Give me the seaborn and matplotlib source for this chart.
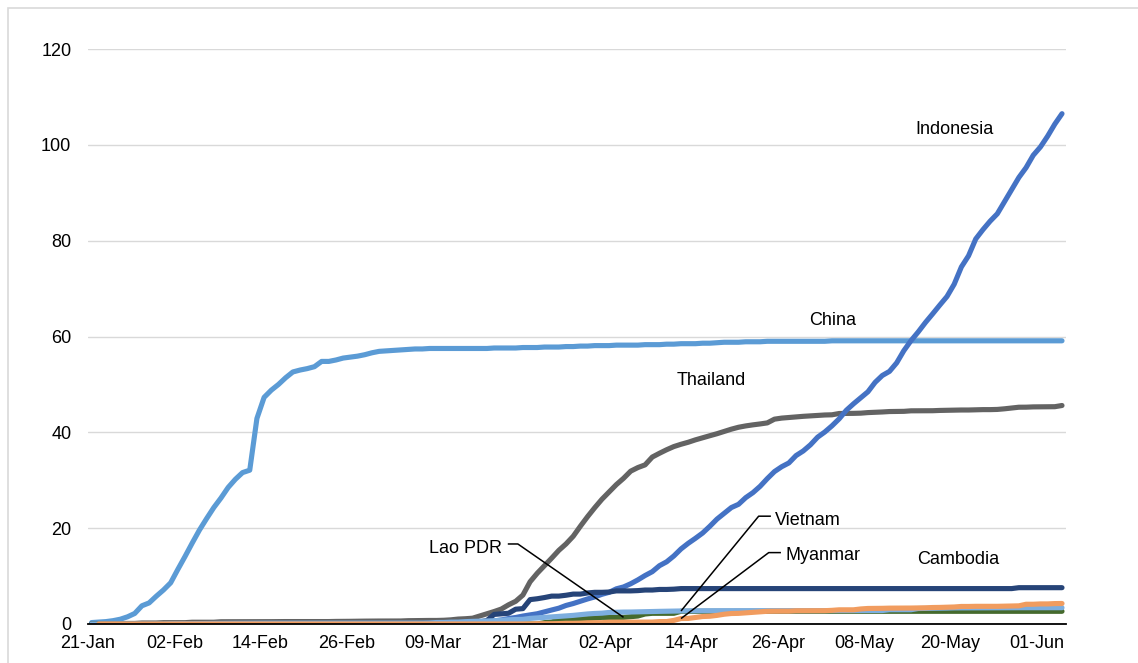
import pandas as pd
import numpy as np
import matplotlib
matplotlib.use('Agg')
import matplotlib.pyplot as plt
from matplotlib.patches import Rectangle
import seaborn as sns

# cases per million, daily 21-Jan .. 04-Jun 2020
dates = pd.date_range('2020-01-21', '2020-06-04', freq='D')

china = [
    0.3, 0.4, 0.5, 0.7, 1.0, 1.5, 2.2, 3.8, 4.4, 5.8,
    7.1, 8.6, 11.4, 14.1, 16.9, 19.6, 22.0, 24.3, 26.3, 28.5,
    30.2, 31.6, 32.1, 42.9, 47.3, 48.8, 50.0, 51.4, 52.6, 53.0,
    53.3, 53.7, 54.8, 54.8, 55.1, 55.5, 55.7, 55.9, 56.2, 56.6,
    56.9, 57.0, 57.1, 57.2, 57.3, 57.4, 57.4, 57.5, 57.5, 57.5,
    57.5, 57.5, 57.5, 57.5, 57.5, 57.5, 57.6, 57.6, 57.6, 57.6,
    57.7, 57.7, 57.7, 57.8, 57.8, 57.8, 57.9, 57.9, 58.0, 58.0,
    58.1, 58.1, 58.1, 58.2, 58.2, 58.2, 58.2, 58.3, 58.3, 58.3,
    58.4, 58.4, 58.5, 58.5, 58.5, 58.6, 58.6, 58.7, 58.8, 58.8,
    58.8, 58.9, 58.9, 58.9, 59.0, 59.0, 59.0, 59.0, 59.0, 59.0,
    59.0, 59.0, 59.0, 59.1, 59.1, 59.1, 59.1, 59.1, 59.1, 59.1,
    59.1, 59.1, 59.1, 59.1, 59.1, 59.1, 59.1, 59.1, 59.1, 59.1,
    59.1, 59.1, 59.1, 59.1, 59.1, 59.1, 59.1, 59.1, 59.1, 59.1,
    59.1, 59.1, 59.1, 59.1, 59.1, 59.1,
]

indonesia = [
    0.0, 0.0, 0.0, 0.0, 0.0, 0.0, 0.0, 0.0, 0.0, 0.0,
    0.0, 0.0, 0.0, 0.0, 0.0, 0.0, 0.0, 0.0, 0.0, 0.0,
    0.0, 0.0, 0.0, 0.0, 0.0, 0.0, 0.0, 0.0, 0.0, 0.0,
    0.0, 0.0, 0.0, 0.0, 0.0, 0.0, 0.0, 0.0, 0.0, 0.0,
    0.0, 0.01, 0.01, 0.01, 0.01, 0.01, 0.01, 0.02, 0.07, 0.10,
    0.13, 0.13, 0.25, 0.35, 0.43, 0.50, 0.64, 0.84, 1.14, 1.36,
    1.66, 1.90, 2.14, 2.54, 2.92, 3.30, 3.87, 4.27, 4.75, 5.23,
    5.65, 6.20, 6.61, 7.34, 7.73, 8.40, 9.21, 10.12, 10.92, 12.17,
    12.98, 14.20, 15.67, 16.84, 17.88, 18.98, 20.38, 21.89, 23.09, 24.30,
    24.98, 26.37, 27.41, 28.73, 30.34, 31.81, 32.82, 33.61, 35.15, 36.11,
    37.39, 38.99, 40.07, 41.36, 42.82, 44.61, 45.96, 47.21, 48.46, 50.43,
    51.86, 52.72, 54.50, 57.05, 59.15, 60.96, 62.92, 64.72, 66.56, 68.35,
    70.91, 74.51, 76.85, 80.36, 82.30, 84.07, 85.61, 88.14, 90.68, 93.19,
    95.24, 97.83, 99.56, 101.81, 104.33, 106.50,
]

thailand = [
    0.03, 0.06, 0.06, 0.07, 0.10, 0.12, 0.12, 0.21, 0.21, 0.21,
    0.28, 0.28, 0.28, 0.28, 0.37, 0.37, 0.37, 0.37, 0.47, 0.47,
    0.47, 0.49, 0.49, 0.49, 0.49, 0.49, 0.51, 0.51, 0.51, 0.51,
    0.51, 0.51, 0.51, 0.51, 0.54, 0.54, 0.56, 0.59, 0.60, 0.62,
    0.62, 0.63, 0.63, 0.63, 0.69, 0.71, 0.74, 0.74, 0.74, 0.78,
    0.87, 1.03, 1.10, 1.21, 1.68, 2.16, 2.60, 3.12, 4.00, 4.74,
    6.04, 8.81, 10.60, 12.16, 13.74, 15.37, 16.71, 18.31, 20.41, 22.41,
    24.28, 26.04, 27.57, 29.09, 30.40, 31.90, 32.65, 33.21, 34.84, 35.63,
    36.37, 37.03, 37.51, 37.93, 38.43, 38.87, 39.29, 39.71, 40.19, 40.66,
    41.06, 41.34, 41.56, 41.75, 41.97, 42.75, 42.97, 43.10, 43.21, 43.34,
    43.44, 43.53, 43.62, 43.66, 43.93, 43.94, 43.96, 44.00, 44.12, 44.18,
    44.25, 44.34, 44.37, 44.38, 44.49, 44.49, 44.50, 44.51, 44.57, 44.60,
    44.62, 44.66, 44.66, 44.71, 44.74, 44.74, 44.78, 44.91, 45.07, 45.24,
    45.25, 45.31, 45.32, 45.34, 45.35, 45.60,
]

cambodia = [
    0.0, 0.0, 0.0, 0.0, 0.0, 0.0, 0.06, 0.06, 0.06, 0.06,
    0.06, 0.06, 0.06, 0.06, 0.06, 0.06, 0.06, 0.06, 0.06, 0.06,
    0.06, 0.06, 0.06, 0.06, 0.06, 0.06, 0.06, 0.06, 0.06, 0.06,
    0.06, 0.06, 0.06, 0.06, 0.06, 0.06, 0.06, 0.06, 0.06, 0.06,
    0.06, 0.06, 0.06, 0.06, 0.06, 0.06, 0.12, 0.12, 0.12, 0.18,
    0.18, 0.30, 0.30, 0.43, 0.43, 0.73, 2.00, 2.12, 2.24, 3.09,
    3.21, 5.09, 5.27, 5.52, 5.82, 5.82, 6.00, 6.24, 6.24, 6.48,
    6.61, 6.61, 6.67, 6.91, 6.91, 6.91, 6.97, 7.09, 7.09, 7.21,
    7.21, 7.27, 7.39, 7.39, 7.39, 7.39, 7.39, 7.39, 7.39, 7.39,
    7.39, 7.39, 7.39, 7.39, 7.39, 7.39, 7.39, 7.39, 7.39, 7.39,
    7.39, 7.39, 7.39, 7.39, 7.39, 7.39, 7.39, 7.39, 7.39, 7.39,
    7.39, 7.39, 7.39, 7.39, 7.39, 7.39, 7.39, 7.39, 7.39, 7.39,
    7.39, 7.39, 7.39, 7.39, 7.39, 7.39, 7.39, 7.39, 7.39, 7.58,
    7.58, 7.58, 7.58, 7.58, 7.58, 7.58,
]

vietnam = [
    0.0, 0.0, 0.02, 0.02, 0.02, 0.02, 0.02, 0.02, 0.02, 0.02,
    0.02, 0.06, 0.06, 0.08, 0.08, 0.10, 0.10, 0.12, 0.12, 0.14,
    0.15, 0.15, 0.15, 0.17, 0.17, 0.17, 0.17, 0.17, 0.17, 0.17,
    0.17, 0.17, 0.17, 0.17, 0.17, 0.17, 0.17, 0.17, 0.17, 0.17,
    0.17, 0.17, 0.17, 0.17, 0.17, 0.17, 0.19, 0.22, 0.31, 0.32,
    0.39, 0.40, 0.49, 0.55, 0.58, 0.63, 0.68, 0.78, 0.88, 0.94,
    0.97, 1.17, 1.27, 1.39, 1.46, 1.59, 1.69, 1.80, 1.95, 2.10,
    2.20, 2.26, 2.41, 2.46, 2.49, 2.50, 2.54, 2.58, 2.60, 2.64,
    2.66, 2.67, 2.72, 2.75, 2.76, 2.77, 2.78, 2.78, 2.78, 2.78,
    2.78, 2.78, 2.78, 2.78, 2.78, 2.78, 2.78, 2.78, 2.78, 2.78,
    2.80, 2.80, 2.80, 2.80, 2.80, 2.80, 2.81, 2.81, 2.81, 2.81,
    2.81, 2.98, 2.98, 2.98, 2.98, 3.23, 3.25, 3.26, 3.30, 3.32,
    3.36, 3.36, 3.38, 3.38, 3.38, 3.38, 3.39, 3.39, 3.40, 3.40,
    3.40, 3.40, 3.40, 3.40, 3.40, 3.40,
]

myanmar = [
    np.nan, 0.0, 0.0, 0.0, 0.0, 0.0, 0.0, 0.0, 0.0, 0.0,
    0.0, 0.0, 0.0, 0.0, 0.0, 0.0, 0.0, 0.0, 0.0, 0.0,
    0.0, 0.0, 0.0, 0.0, 0.0, 0.0, 0.0, 0.0, 0.0, 0.0,
    0.0, 0.0, 0.0, 0.0, 0.0, 0.0, 0.0, 0.0, 0.0, 0.0,
    0.0, 0.0, 0.0, 0.0, 0.0, 0.0, 0.0, 0.0, 0.0, 0.0,
    0.0, 0.0, 0.0, 0.0, 0.0, 0.0, 0.0, 0.0, 0.0, 0.0,
    0.0, 0.0, 0.06, 0.06, 0.06, 0.09, 0.15, 0.15, 0.18, 0.26,
    0.28, 0.28, 0.37, 0.37, 0.39, 0.39, 0.40, 0.40, 0.40, 0.50,
    0.51, 0.75, 1.14, 1.16, 1.36, 1.56, 1.62, 1.80, 2.04, 2.19,
    2.22, 2.33, 2.43, 2.56, 2.65, 2.67, 2.68, 2.68, 2.76, 2.76,
    2.78, 2.78, 2.78, 2.85, 2.96, 2.96, 2.96, 3.14, 3.24, 3.25,
    3.27, 3.31, 3.31, 3.31, 3.33, 3.35, 3.38, 3.44, 3.46, 3.51,
    3.55, 3.66, 3.66, 3.69, 3.69, 3.69, 3.69, 3.73, 3.79, 3.79,
    4.12, 4.12, 4.19, 4.19, 4.26, 4.28,
]

lao = [
    0.0, 0.0, 0.0, 0.0, 0.0, 0.0, 0.0, 0.0, 0.0, 0.0,
    0.0, 0.0, 0.0, 0.0, 0.0, 0.0, 0.0, 0.0, 0.0, 0.0,
    0.0, 0.0, 0.0, 0.0, 0.0, 0.0, 0.0, 0.0, 0.0, 0.0,
    0.0, 0.0, 0.0, 0.0, 0.0, 0.0, 0.0, 0.0, 0.0, 0.0,
    0.0, 0.0, 0.0, 0.0, 0.0, 0.0, 0.0, 0.0, 0.0, 0.0,
    0.0, 0.0, 0.0, 0.0, 0.0, 0.0, 0.0, 0.0, 0.0, 0.0,
    0.0, 0.0, 0.0, 0.28, 0.42, 0.84, 0.84, 1.12, 1.12, 1.12,
    1.26, 1.39, 1.39, 1.39, 1.39, 1.53, 1.67, 2.09, 2.23, 2.23,
    2.23, 2.23, 2.65, 2.65, 2.65, 2.65, 2.65, 2.65, 2.65, 2.65,
    2.65, 2.65, 2.65, 2.65, 2.65, 2.65, 2.65, 2.65, 2.65, 2.65,
    2.65, 2.65, 2.65, 2.65, 2.65, 2.65, 2.65, 2.65, 2.65, 2.65,
    2.65, 2.65, 2.65, 2.65, 2.65, 2.65, 2.65, 2.65, 2.65, 2.65,
    2.65, 2.65, 2.65, 2.65, 2.65, 2.65, 2.65, 2.65, 2.65, 2.65,
    2.65, 2.65, 2.65, 2.65, 2.65, 2.65,
]

countries = ['Thailand', 'China', 'Indonesia', 'Cambodia', 'Lao PDR', 'Vietnam', 'Myanmar']
colors = ['#636363', '#5B9BD5', '#4472C4', '#264478', '#456A2D', '#7DAEDF', '#F19C5F']

tick_dates = ['2020-01-21', '2020-02-02', '2020-02-14', '2020-02-26', '2020-03-09', '2020-03-21',
              '2020-04-02', '2020-04-14', '2020-04-26', '2020-05-08', '2020-05-20', '2020-06-01']
tick_labels = ['21-Jan', '02-Feb', '14-Feb', '26-Feb', '09-Mar', '21-Mar',
               '02-Apr', '14-Apr', '26-Apr', '08-May', '20-May', '01-Jun']
y_ticks = [0, 20, 40, 60, 80, 100, 120]

wide = pd.DataFrame({
    'date': dates,
    'Thailand': thailand, 'China': china, 'Indonesia': indonesia, 'Cambodia': cambodia,
    'Lao PDR': lao, 'Vietnam': vietnam, 'Myanmar': myanmar,
})
# excel date axis puts each point in the middle of its day
wide['pos'] = wide['date'] + pd.Timedelta(hours=12)
long = wide.melt(id_vars=['date', 'pos'], var_name='country', value_name='value').dropna()

sns.set_style('white')
plt.rcParams['font.family'] = ['Liberation Sans', 'DejaVu Sans']
plt.rcParams['font.size'] = 13
plt.rcParams['text.color'] = 'black'
plt.rcParams['xtick.labelcolor'] = 'black'
plt.rcParams['ytick.labelcolor'] = 'black'

fig = plt.figure(figsize=(11.38, 6.63), dpi=100)
ax = fig.add_axes([88 / 1138, 39 / 663, 977.6 / 1138, 575 / 663])

sns.lineplot(data=long, x='pos', y='value', hue='country', hue_order=countries,
             palette=dict(zip(countries, colors)), linewidth=3.7, estimator=None,
             legend=False, ax=ax)
for ln in ax.lines:
    ln.set_solid_capstyle('round')
    ln.set_solid_joinstyle('round')
    ln.set_zorder(3)

ax.set_xlim(pd.Timestamp('2020-01-21'), pd.Timestamp('2020-06-05'))
ax.set_ylim(0, 120)
ax.set_xticks(pd.to_datetime(tick_dates))
ax.set_xticklabels(tick_labels, fontsize=13, color='black')
ax.set_yticks(y_ticks)
ax.set_yticklabels([str(v) for v in y_ticks], fontsize=13, color='black')
ax.set_xlabel('')
ax.set_ylabel('')

ax.yaxis.grid(True, color='#D9D9D9', linewidth=1.0)
ax.set_axisbelow(True)
for side in ['left', 'top', 'right']:
    ax.spines[side].set_visible(False)
ax.spines['bottom'].set_color('black')
ax.spines['bottom'].set_linewidth(1.3)
ax.spines['bottom'].set_zorder(4)
ax.tick_params(axis='x', direction='out', length=4, width=1.1, color='black', pad=4)
ax.tick_params(axis='y', length=0, pad=12)


def day(n):
    return pd.Timestamp('2020-01-21') + pd.Timedelta(days=n)


# series labels
ax.text(day(120.6), 103.3, 'Indonesia', ha='center', va='center', fontsize=13, color='black')
ax.text(day(103.6), 63.4, 'China', ha='center', va='center', fontsize=13, color='black')
ax.text(day(86.7), 50.9, 'Thailand', ha='center', va='center', fontsize=13, color='black')
ax.text(day(121.0), 13.4, 'Cambodia', ha='center', va='center', fontsize=13, color='black')
ax.text(day(95.6), 21.7, 'Vietnam', ha='left', va='center', fontsize=13, color='black')
ax.text(day(97.1), 14.4, 'Myanmar', ha='left', va='center', fontsize=13, color='black')
ax.text(day(57.6), 15.8, 'Lao PDR', ha='right', va='center', fontsize=13, color='black')

# leader lines from label to the series point
leaders = [
    (day(58.4), 16.7, day(59.8), 16.7, 74, lao),
    (day(95.0), 22.5, day(93.3), 22.5, 82, vietnam),
    (day(96.4), 14.9, day(94.7), 14.9, 82, myanmar),
]
for x0, y0, x1, y1, idx, series in leaders:
    xp = dates[idx] + pd.Timedelta(hours=12)
    ax.plot([x0, x1, xp], [y0, y1, series[idx]], color='black', lw=1.1, zorder=5,
            solid_capstyle='butt')

# outer chart border
fig.add_artist(Rectangle((7.5 / 1138, -0.1), 2, 1.1 - 8.5 / 663, transform=fig.transFigure,
                         fill=False, edgecolor='#D9D9D9', linewidth=1.2))

fig.savefig('out.png', dpi=100)
